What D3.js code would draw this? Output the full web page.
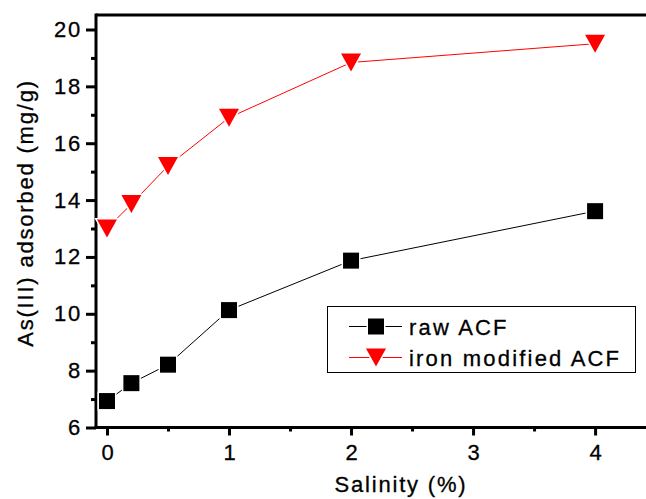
<!DOCTYPE html>
<html><head><meta charset="utf-8">
<script src="https://cdn.jsdelivr.net/npm/d3@7"></script>
<style>html,body{margin:0;padding:0;background:#fff;}svg{display:block;font-family:"Liberation Sans",Arial,sans-serif;}text{letter-spacing:1.8px;stroke:#000;stroke-width:0.3px;}</style>
</head><body>
<script>
const salinity = [0, 0.2, 0.5, 1, 2, 4];
const rawACF = [6.93, 7.56, 8.21, 10.13, 11.87, 13.61];
const ironACF = [13.0, 13.86, 15.2, 16.9, 18.84, 19.5];
const seriesNames = ["raw ACF", "iron modified ACF"];
const xTicks = [0, 1, 2, 3, 4];
const yTicks = [6, 8, 10, 12, 14, 16, 18, 20];
const xMinor = [0.5, 1.5, 2.5, 3.5];
const yMinor = [7, 9, 11, 13, 15, 17, 19];

(function () {
const W = 646, H = 499, FS = 22;
const svg = d3.select("body").append("svg").attr("width", W).attr("height", H);
const pL = 96, pR = 660, pT = 15, pB = 427.5;
const x = d3.scaleLinear().domain([-0.09, 4.532]).range([pL, pR]);
const y = d3.scaleLinear().domain([6, 20.51]).range([pB, pT]);

// frame
svg.append("line").attr("x1", pL).attr("x2", pR + 5).attr("y1", pT).attr("y2", pT).attr("stroke", "#000").attr("stroke-width", 3);

// axes
const yAxis = d3.axisLeft(y).tickValues(yTicks).tickSize(10).tickPadding(4).tickFormat(d3.format("d"));
const gy = svg.append("g").attr("transform", `translate(${pL},0)`).call(yAxis);
gy.select(".domain").attr("stroke-width", 3).attr("d", `M0,${pB + 1.5}V${pT - 1.5}`);
gy.selectAll(".tick line").attr("stroke-width", 3);
gy.selectAll(".tick text").attr("font-size", FS).attr("font-family", "Liberation Sans, Arial, sans-serif").attr("fill", "#000");
svg.append("g").attr("transform", `translate(${pL},0)`)
  .call(d3.axisLeft(y).tickValues(yMinor).tickSize(5).tickFormat(""))
  .call(g => { g.select(".domain").remove(); g.selectAll(".tick line").attr("stroke-width", 3); });

const xAxis = d3.axisBottom(x).tickValues(xTicks).tickSize(8).tickPadding(9).tickFormat(d3.format("d"));
const gx = svg.append("g").attr("transform", `translate(0,${pB})`).call(xAxis);
gx.select(".domain").attr("stroke-width", 3).attr("d", `M${pL - 1.5},0H${pR + 5}`);
gx.selectAll(".tick line").attr("stroke-width", 3);
gx.selectAll(".tick text").attr("font-size", FS).attr("font-family", "Liberation Sans, Arial, sans-serif").attr("fill", "#000").attr("dx", 1);
svg.append("g").attr("transform", `translate(0,${pB})`)
  .call(d3.axisBottom(x).tickValues(xMinor).tickSize(4).tickFormat(""))
  .call(g => { g.select(".domain").remove(); g.selectAll(".tick line").attr("stroke-width", 3); });

// titles
svg.append("text").attr("x", 401).attr("y", 492).attr("text-anchor", "middle").attr("font-size", FS).text("Salinity (%)");
svg.append("text").attr("transform", `translate(33,${213}) rotate(-90)`).attr("text-anchor", "middle").attr("font-size", FS).text("As(III) adsorbed (mg/g)");

// series
const line = d3.line().x((d, i) => x(salinity[i])).y(d => y(d));
const sq = d3.symbol().type(d3.symbolSquare).size(256);
const tri = `M-10,-9L10,-9L0,9Z`;

svg.append("path").datum(rawACF).attr("d", line).attr("fill", "none").attr("stroke", "#000").attr("stroke-width", 1);
svg.append("path").datum(ironACF).attr("d", line).attr("fill", "none").attr("stroke", "#ff0000").attr("stroke-width", 1);

svg.append("g").selectAll("path").data(rawACF).join("path")
  .attr("transform", (d, i) => `translate(${x(salinity[i])},${y(d)})`)
  .attr("d", sq).attr("fill", "#000").attr("stroke", "#fff").attr("stroke-width", 3).attr("paint-order", "stroke");
svg.append("g").selectAll("path").data(ironACF).join("path")
  .attr("transform", (d, i) => `translate(${x(salinity[i])},${y(d)})`)
  .attr("d", tri).attr("fill", "#ff0000").attr("stroke", "#fff").attr("stroke-width", 3).attr("paint-order", "stroke");

// legend
const lg = svg.append("g");
lg.append("rect").attr("x", 327.5).attr("y", 306.5).attr("width", 308).attr("height", 66).attr("fill", "#fff").attr("stroke", "#000").attr("stroke-width", 1);
const rows = [{name: seriesNames[0], color: "#000", sym: sq, cy: 326.5}, {name: seriesNames[1], color: "#ff0000", sym: tri, cy: 357.5}];
rows.forEach(r => {
  lg.append("line").attr("x1", 349).attr("x2", 402).attr("y1", r.cy).attr("y2", r.cy).attr("stroke", r.color).attr("stroke-width", 1);
  lg.append("path").attr("transform", `translate(376,${r.cy})`).attr("d", r.sym).attr("fill", r.color).attr("stroke", "#fff").attr("stroke-width", 3).attr("paint-order", "stroke");
  lg.append("text").attr("x", 409).attr("y", r.cy + 8).attr("font-size", FS).style("letter-spacing", "2.2px").text(r.name);
});
})();
</script>
</body></html>
